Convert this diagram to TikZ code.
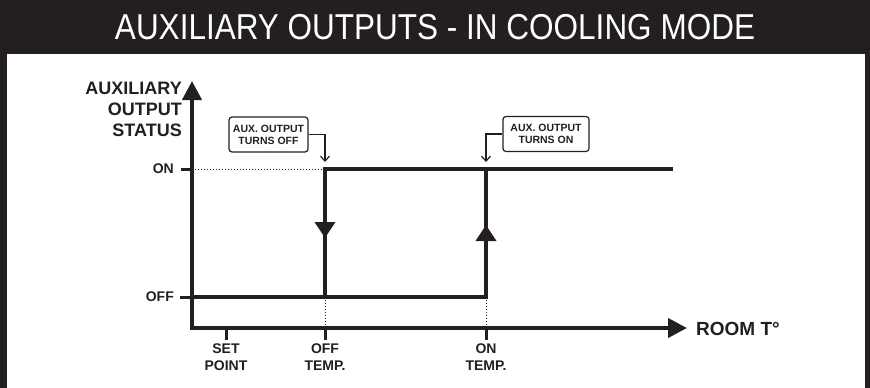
\documentclass[tikz,border=0pt]{standalone}
\usepackage{fontspec}
\setmainfont{Liberation Sans}
\usetikzlibrary{arrows.meta}
\definecolor{ink}{RGB}{35,31,32}
\tikzset{
  bigtip/.tip={Triangle[length=19pt,width=19pt]},
  midtip/.tip={Triangle[length=16pt,width=20pt]},
  barbtip/.tip={Straight Barb[length=5pt,width=9pt]}}
\begin{document}
\begin{tikzpicture}[x=1pt,y=-1pt,
  axisline/.style={ink,line width=4pt,line join=miter},
  stepline/.style={ink,line width=3.6pt,line cap=rect},
  tickline/.style={ink,line width=3pt},
  dotline/.style={ink,line width=1pt,dotted},
  lbl/.style={text=ink,font=\bfseries\fontsize{14}{17}\selectfont,inner sep=0pt},
  callout/.style={draw=ink,line width=1.2pt,rounded corners=3pt,align=center,text=ink,
    font=\bfseries\fontsize{10.5}{12}\selectfont,inner sep=0pt,minimum height=35pt},
  pointer/.style={ink,line width=1.2pt,-barbtip}]
\useasboundingbox (0,0) rectangle (870,388);
% frame
\fill[ink] (0,0) rectangle (870,54);
\fill[ink] (0,0) rectangle (7,388);
\fill[ink] (865,0) rectangle (870,388);
\node[anchor=base,text=white,inner sep=0pt] (title) at (435,39)
  {\scalebox{0.875}[1]{\fontsize{36}{40}\selectfont AUXILIARY OUTPUTS - IN COOLING MODE}};
% coordinates
\coordinate (ytop) at (192,81);
\coordinate (orig) at (192,328);
\coordinate (xend) at (687,328);
\coordinate (offstart) at (192,297);
\coordinate (onx) at (486,297);
\coordinate (ontop) at (486,169);
\coordinate (offx) at (325,297);
\coordinate (offtop) at (325,169);
\coordinate (onend) at (671,169);
\coordinate (ony) at (192,169);
% axes
\draw[axisline,bigtip-bigtip] (ytop) -- (orig) -- (xend);
% y ticks and labels
\draw[tickline] (181,169) -- (ony);
\draw[tickline] (180,297) -- (offstart);
\node[lbl,anchor=east] (lon) at (174,169) {ON};
\node[lbl,anchor=east] (loff) at (174,297) {OFF};
\node[lbl,anchor=east,align=right,font=\bfseries\fontsize{18}{21}\selectfont] (ylab) at (182,109)
  {AUXILIARY\\OUTPUT\\STATUS};
% dotted guides
\draw[dotline] (ony) -- (offtop);
\draw[dotline] (offx) -- (offx |- orig);
\draw[dotline] (onx) -- (onx |- orig);
% step lines
\draw[stepline,line join=miter] (offstart) -- (onx) -- (ontop);
\draw[stepline,line join=miter] (offx) -- (offtop) -- (onend);
\coordinate (downtip) at (325,238);
\coordinate (uptip) at (486,225);
\draw[ink,line width=3.6pt,-midtip] (offtop) -- (downtip);
\draw[ink,line width=3.6pt,-midtip] (onx) -- (uptip);
% x ticks and labels
\draw[tickline] (226,328) -- (226,340);
\draw[tickline] (325,328) -- (325,340);
\draw[tickline] (486,328) -- (486,340);
\node[lbl,anchor=north,align=center] (lsp) at (226,344) {SET\\POINT};
\node[lbl,anchor=north,align=center] (loffT) at (325,344) {OFF\\TEMP.};
\node[lbl,anchor=north,align=center] (lonT) at (486,344) {ON\\TEMP.};
\node[lbl,anchor=west,font=\bfseries\fontsize{19}{22}\selectfont] (xlab) at (696,329) {ROOM T°};
% callouts
\node[callout,minimum width=79pt] (boxoff) at (268.5,134.5) {AUX. OUTPUT\\TURNS OFF};
\node[callout,minimum width=86pt] (boxon) at (546,134) {AUX. OUTPUT\\TURNS ON};
\coordinate (offptr) at (325,162);
\coordinate (onptr) at (486,162);
\draw[pointer] (boxoff.east) -| (offptr);
\draw[pointer] (boxon.west) -| (onptr);
\end{tikzpicture}
\end{document}
